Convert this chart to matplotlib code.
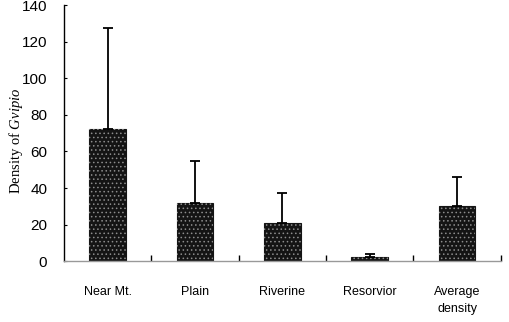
import matplotlib.pyplot as plt
import numpy as np

plt.rcParams["mathtext.fontset"] = "custom"
plt.rcParams["mathtext.rm"] = "Liberation Serif"
plt.rcParams["mathtext.it"] = "Liberation Serif:italic"
plt.rcParams["hatch.linewidth"] = 0.6

sites = ["Near Mt.", "Plain", "Riverine", "Resorvior", "Average\ndensity"]
density = [72, 32, 21, 2, 30]
upper_err = [55.5, 22.5, 16, 2, 16]

fig = plt.figure(figsize=(5.1, 3.22), dpi=100)
ax = fig.add_axes([0.1255, 0.189, 0.8565, 0.795])

x = np.arange(len(sites))
yerr = [np.zeros(len(density)), upper_err]
ax.bar(x, density, width=0.42, color="#141414", edgecolor="#141414", linewidth=0.8,
       yerr=yerr, error_kw=dict(ecolor="black", elinewidth=1.3, capsize=3.5, capthick=1.3))
# light speckle on the dark fill
ax.bar(x, density, width=0.42, fill=False, hatch="....", edgecolor="#8c8c8c", linewidth=0)

ax.set_xlim(-0.5, len(sites) - 0.5)
ax.set_ylim(0, 140)
ax.set_yticks(range(0, 141, 20))
ax.set_xticks(x)
ax.set_xticklabels(sites, fontfamily="Liberation Sans", fontsize=9, linespacing=1.5)
ax.set_xticks(list(x + 0.5), minor=True)
ax.tick_params(axis="x", which="major", length=0, pad=18)
ax.tick_params(axis="x", which="minor", direction="in", length=4, width=1)
ax.tick_params(axis="y", direction="in", length=2, labelsize=11, pad=12)
for lbl in ax.get_yticklabels():
    lbl.set_fontfamily("Liberation Sans")

ax.spines["top"].set_visible(False)
ax.spines["right"].set_visible(False)
ax.spines["left"].set_linewidth(1.0)
ax.spines["bottom"].set_color("#999999")
ax.spines["bottom"].set_linewidth(1.0)

ax.set_ylabel(r"Density of $\mathit{Gvipio}$", fontfamily="Liberation Serif", fontsize=10.5)
ax.yaxis.set_label_coords(-0.09, 0.47)

fig.savefig("out.png", dpi=100)
